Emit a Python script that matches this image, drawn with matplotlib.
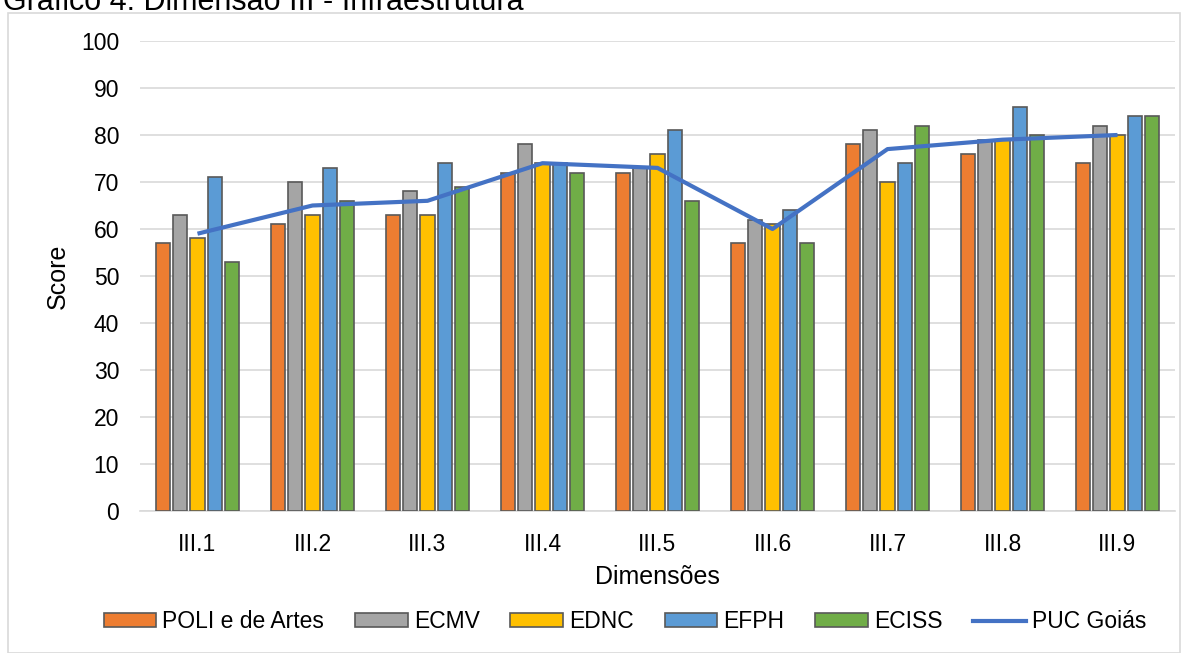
import matplotlib
matplotlib.use("Agg")
import matplotlib.pyplot as plt
import numpy as np
from matplotlib.patches import Rectangle
from matplotlib.lines import Line2D

categories = ["III.1", "III.2", "III.3", "III.4", "III.5", "III.6", "III.7", "III.8", "III.9"]
poli = [57, 61, 63, 72, 72, 57, 78, 76, 74]
ecmv = [63, 70, 68, 78, 73, 62, 81, 79, 82]
ednc = [58, 63, 63, 74, 76, 61, 70, 79, 80]
efph = [71, 73, 74, 74, 81, 64, 74, 86, 84]
eciss = [53, 66, 69, 72, 66, 57, 82, 80, 84]
puc = [59, 65, 66, 74, 73, 60, 77, 79, 80]

series_names = ["POLI e de Artes", "ECMV", "EDNC", "EFPH", "ECISS"]
series_vals = [poli, ecmv, ednc, efph, eciss]
colors = ["#ED7D31", "#A5A5A5", "#FFC000", "#5B9BD5", "#70AD47"]
line_color = "#4472C4"

plt.rcParams['font.family'] = ['Liberation Sans', 'DejaVu Sans']

W, H = 1192, 653
fig = plt.figure(figsize=(W / 100, H / 100), dpi=100)
ax = fig.add_axes([140 / W, 1 - 511 / H, (1175 - 140) / W, (511 - 41) / H])

x = np.arange(len(categories))
bw = 0.122
step = 0.15
handles = []
for i, (name, vals, c) in enumerate(zip(series_names, series_vals, colors)):
    ax.bar(x + (i - 2) * step, vals, width=bw, color=c, edgecolor="#595959",
           linewidth=1.2, label=name, zorder=3)
    handles.append(Rectangle((0, 0), 1, 1, facecolor=c, edgecolor="#595959", linewidth=1.2))

ax.plot(x, puc, color=line_color, linewidth=3, zorder=4, solid_capstyle='butt')
handles.append(Line2D([0], [0], color=line_color, linewidth=3))

ax.set_xlim(-0.5, len(categories) - 0.5)
ax.set_ylim(0, 100)
ax.set_yticks(range(0, 101, 10))
ax.set_xticks(x)
ax.set_xticklabels(categories)
ax.tick_params(axis='both', length=0, labelsize=16.5, colors="#000000")
ax.tick_params(axis='y', pad=15)
ax.tick_params(axis='x', pad=16)
ax.grid(axis='y', color="#D9D9D9", linewidth=1.2, zorder=0)
ax.set_axisbelow(True)
for s in ["top", "right", "left"]:
    ax.spines[s].set_visible(False)
ax.spines["bottom"].set_color("#D9D9D9")
ax.spines["bottom"].set_linewidth(1.2)

ax.set_ylabel("Score", fontsize=18, labelpad=8)
ax.set_xlabel("Dimensões", fontsize=18, labelpad=6)

fig.legend(handles, series_names + ["PUC Goiás"], loc="center",
           bbox_to_anchor=(625 / W, 1 - 622 / H), ncol=6, frameon=False,
           fontsize=16.5, handlelength=2.3, handleheight=0.57, handletextpad=0.26,
           columnspacing=1.35)

# chart frame
fig.patches.append(Rectangle((8 / W, 0), (1180 - 8) / W, 1 - 13 / H,
                             transform=fig.transFigure, fill=False,
                             edgecolor="#D9D9D9", linewidth=1.2))

# title (cut off at the top in the reference)
fig.text(3 / W, 1 - 10 / H, "Gráfico 4: Dimensão III - Infraestrutura",
         fontsize=22, va="baseline", ha="left")

fig.savefig("out.png", dpi=100)
